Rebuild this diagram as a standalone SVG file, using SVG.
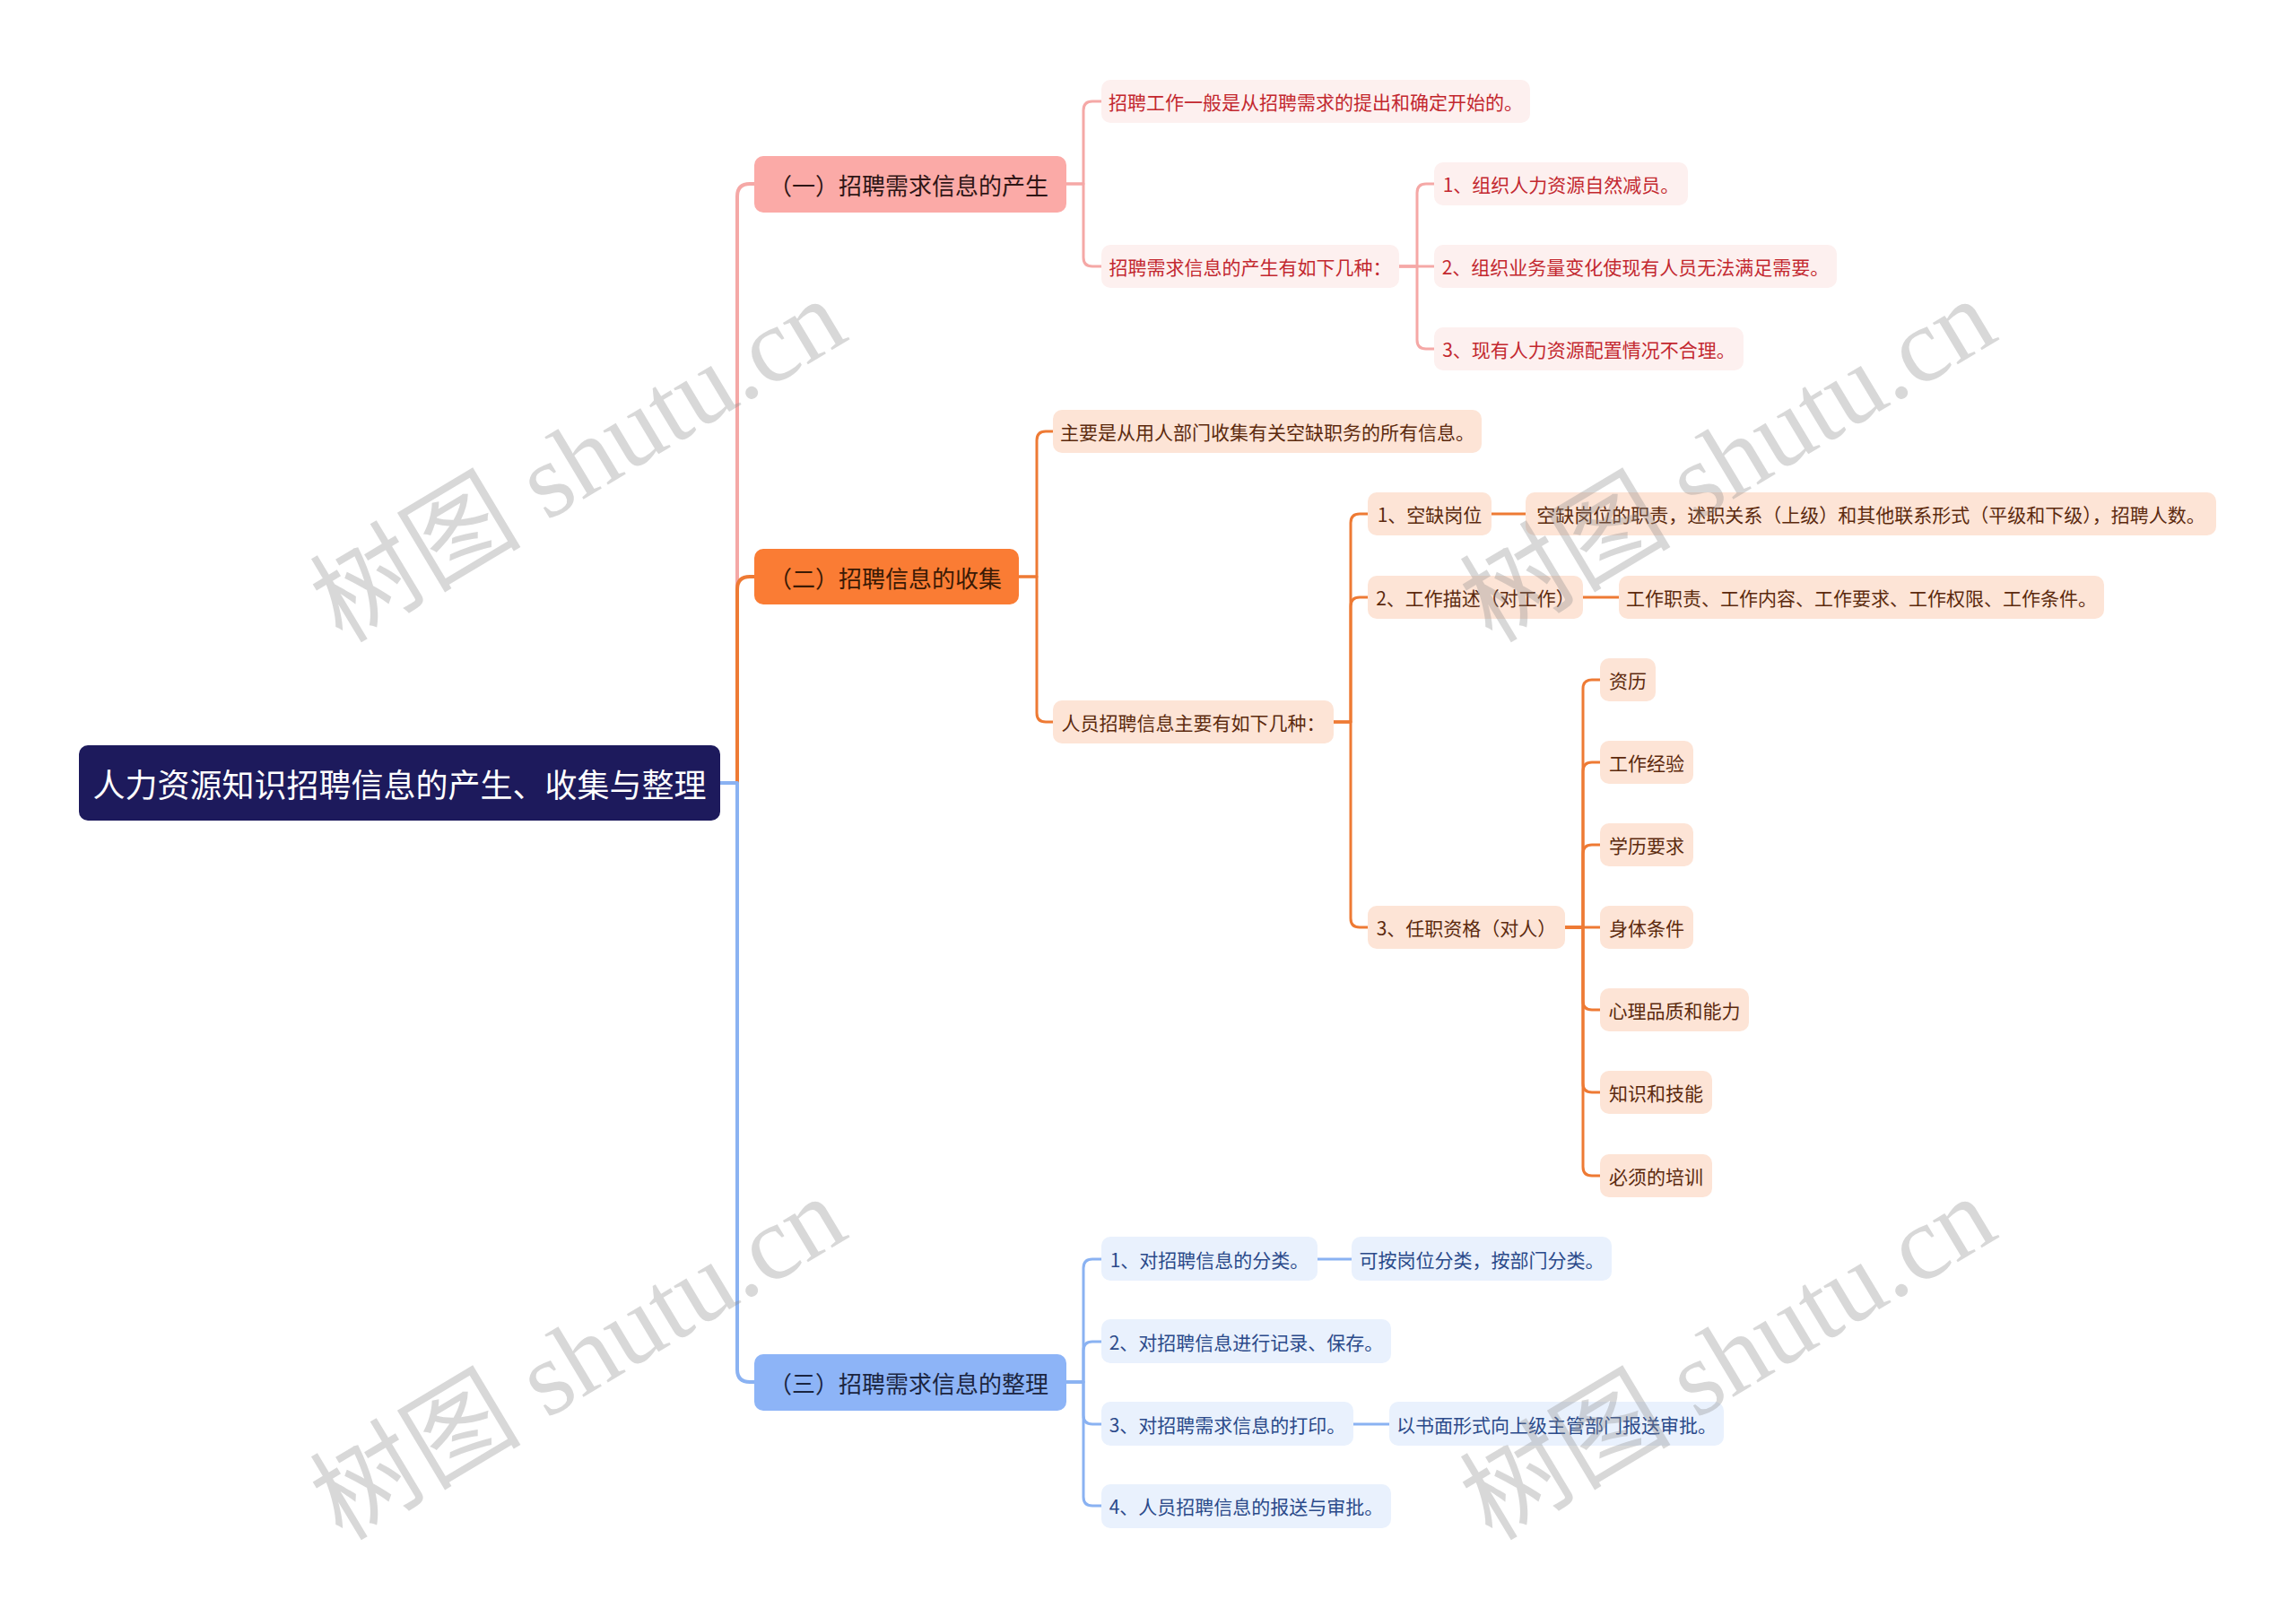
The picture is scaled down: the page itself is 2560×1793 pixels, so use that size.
<svg xmlns="http://www.w3.org/2000/svg" width="2560" height="1793" viewBox="0 0 2560 1793">
<style>
text{font-family:"Noto Sans CJK SC","Noto Sans",sans-serif;text-anchor:middle;dominant-baseline:central}
.root rect{fill:#1d1a5c}
.root text{fill:#ffffff;font-size:36px}
.l1 text{font-size:26px}
.l2 text{font-size:21px}
.pA rect{fill:#fbaaa7}.pA text{fill:#2e1616}
.pB rect{fill:#fa7c34}.pB text{fill:#3a1a05}
.pC rect{fill:#8db4f7}.pC text{fill:#1b2540}
.sA rect{fill:#fdf0ef}.sA text{fill:#c3282f}
.sB rect{fill:#fde4d6}.sB text{fill:#5c2a0e}
.sC rect{fill:#e9f1fd}.sC text{fill:#2b4a8a}
.c{fill:none;stroke-linecap:round;stroke-linejoin:round}
.cA{stroke:#f5a8a6}.cB{stroke:#ee7a34}.cC{stroke:#8ab2f2}
.w4{stroke-width:4}.w3{stroke-width:3}
.wm{font-family:"Liberation Serif","Noto Sans CJK SC",serif;font-size:118px;fill:#8c8c8c;opacity:0.33}
</style>
<rect width="2560" height="1793" fill="#ffffff"/>
<g id="connectors">
<path class="c cA w4" d="M803,873 H822 V219 Q822,205 836,205 H841"/>
<path class="c cB w4" d="M803,873 H822 V657 Q822,643 836,643 H841"/>
<path class="c cC w4" d="M803,873 H822 V1527 Q822,1541 836,1541 H841"/>
<path class="c cA w3" d="M1189,205 H1208 V123 Q1208,113 1218,113 H1228"/>
<path class="c cA w3" d="M1189,205 H1208 V287 Q1208,297 1218,297 H1228"/>
<path class="c cA w3" d="M1560,297 H1580 V215 Q1580,205 1590,205 H1599"/>
<path class="c cA w3" d="M1560,297 H1599"/>
<path class="c cA w3" d="M1560,297 H1580 V379 Q1580,389 1590,389 H1599"/>
<path class="c cB w3" d="M1136,643 H1156 V491 Q1156,481 1166,481 H1174"/>
<path class="c cB w3" d="M1136,643 H1156 V795 Q1156,805 1166,805 H1174"/>
<path class="c cB w3" d="M1487,805 H1506 V583 Q1506,573 1516,573 H1525"/>
<path class="c cB w3" d="M1487,805 H1506 V676 Q1506,666 1516,666 H1525"/>
<path class="c cB w3" d="M1487,805 H1506 V1024 Q1506,1034 1516,1034 H1525"/>
<path class="c cB w3" d="M1663,573 H1701"/>
<path class="c cB w3" d="M1765,666 H1805"/>
<path class="c cB w3" d="M1745,1034 H1765 V768 Q1765,758 1775,758 H1784"/>
<path class="c cB w3" d="M1745,1034 H1765 V860 Q1765,850 1775,850 H1784"/>
<path class="c cB w3" d="M1745,1034 H1765 V952 Q1765,942 1775,942 H1784"/>
<path class="c cB w3" d="M1745,1034 H1784"/>
<path class="c cB w3" d="M1745,1034 H1765 V1116 Q1765,1126 1775,1126 H1784"/>
<path class="c cB w3" d="M1745,1034 H1765 V1208 Q1765,1218 1775,1218 H1784"/>
<path class="c cB w3" d="M1745,1034 H1765 V1301 Q1765,1311 1775,1311 H1784"/>
<path class="c cC w3" d="M1189,1541 H1208 V1414 Q1208,1404 1218,1404 H1228"/>
<path class="c cC w3" d="M1189,1541 H1208 V1506 Q1208,1496 1218,1496 H1228"/>
<path class="c cC w3" d="M1189,1541 H1208 V1578 Q1208,1588 1218,1588 H1228"/>
<path class="c cC w3" d="M1189,1541 H1208 V1669 Q1208,1679 1218,1679 H1228"/>
<path class="c cC w3" d="M1469,1404 H1507"/>
<path class="c cC w3" d="M1509,1588 H1549"/>
</g>
<g id="n-root" class="root"><rect x="88" y="831" width="715" height="84" rx="10"/><text x="445.5" y="873">人力资源知识招聘信息的产生、收集与整理</text></g>
<g id="n-a" class="l1 pA"><rect x="841" y="174" width="348" height="63" rx="10"/><text x="1013" y="205.5">（一）招聘需求信息的产生</text></g>
<g id="n-b" class="l1 pB"><rect x="841" y="612" width="295" height="62" rx="10"/><text x="987" y="643">（二）招聘信息的收集</text></g>
<g id="n-c" class="l1 pC"><rect x="841" y="1510" width="348" height="63" rx="10"/><text x="1013" y="1541.5">（三）招聘需求信息的整理</text></g>
<g id="n-a1" class="l2 sA"><rect x="1228" y="89" width="478" height="48" rx="10"/><text x="1467" y="113">招聘工作一般是从招聘需求的提出和确定开始的。</text></g>
<g id="n-a2" class="l2 sA"><rect x="1228" y="273" width="332" height="48" rx="10"/><text x="1394" y="297">招聘需求信息的产生有如下几种：</text></g>
<g id="n-a2a" class="l2 sA"><rect x="1599" y="181" width="283" height="48" rx="10"/><text x="1740.5" y="205">1、组织人力资源自然减员。</text></g>
<g id="n-a2b" class="l2 sA"><rect x="1599" y="273" width="449" height="48" rx="10"/><text x="1823.5" y="297">2、组织业务量变化使现有人员无法满足需要。</text></g>
<g id="n-a2c" class="l2 sA"><rect x="1599" y="365" width="345" height="48" rx="10"/><text x="1771.5" y="389">3、现有人力资源配置情况不合理。</text></g>
<g id="n-b1" class="l2 sB"><rect x="1174" y="457" width="478" height="48" rx="10"/><text x="1413" y="481">主要是从用人部门收集有关空缺职务的所有信息。</text></g>
<g id="n-b2" class="l2 sB"><rect x="1174" y="781" width="313" height="48" rx="10"/><text x="1330.5" y="805">人员招聘信息主要有如下几种：</text></g>
<g id="n-b2a" class="l2 sB"><rect x="1525" y="549" width="138" height="48" rx="10"/><text x="1594" y="573">1、空缺岗位</text></g>
<g id="n-b2a1" class="l2 sB"><rect x="1701" y="549" width="770" height="48" rx="10"/><text x="2086" y="573">空缺岗位的职责，述职关系（上级）和其他联系形式（平级和下级），招聘人数。</text></g>
<g id="n-b2b" class="l2 sB"><rect x="1525" y="642" width="240" height="48" rx="10"/><text x="1645" y="666">2、工作描述（对工作）</text></g>
<g id="n-b2b1" class="l2 sB"><rect x="1805" y="642" width="541" height="48" rx="10"/><text x="2075.5" y="666">工作职责、工作内容、工作要求、工作权限、工作条件。</text></g>
<g id="n-b2c" class="l2 sB"><rect x="1525" y="1010" width="220" height="48" rx="10"/><text x="1635" y="1034">3、任职资格（对人）</text></g>
<g id="n-b2c1" class="l2 sB"><rect x="1784" y="734" width="62" height="48" rx="10"/><text x="1815" y="758">资历</text></g>
<g id="n-b2c2" class="l2 sB"><rect x="1784" y="826" width="104" height="48" rx="10"/><text x="1836" y="850">工作经验</text></g>
<g id="n-b2c3" class="l2 sB"><rect x="1784" y="918" width="104" height="48" rx="10"/><text x="1836" y="942">学历要求</text></g>
<g id="n-b2c4" class="l2 sB"><rect x="1784" y="1010" width="104" height="48" rx="10"/><text x="1836" y="1034">身体条件</text></g>
<g id="n-b2c5" class="l2 sB"><rect x="1784" y="1102" width="166" height="48" rx="10"/><text x="1867" y="1126">心理品质和能力</text></g>
<g id="n-b2c6" class="l2 sB"><rect x="1784" y="1194" width="125" height="48" rx="10"/><text x="1846.5" y="1218">知识和技能</text></g>
<g id="n-b2c7" class="l2 sB"><rect x="1784" y="1287" width="125" height="48" rx="10"/><text x="1846.5" y="1311">必须的培训</text></g>
<g id="n-c1" class="l2 sC"><rect x="1228" y="1379" width="241" height="49" rx="10"/><text x="1348.5" y="1404">1、对招聘信息的分类。</text></g>
<g id="n-c1a" class="l2 sC"><rect x="1507" y="1379" width="290" height="49" rx="10"/><text x="1652" y="1404">可按岗位分类，按部门分类。</text></g>
<g id="n-c2" class="l2 sC"><rect x="1228" y="1471" width="323" height="49" rx="10"/><text x="1389.5" y="1496">2、对招聘信息进行记录、保存。</text></g>
<g id="n-c3" class="l2 sC"><rect x="1228" y="1563" width="281" height="49" rx="10"/><text x="1368.5" y="1588">3、对招聘需求信息的打印。</text></g>
<g id="n-c3a" class="l2 sC"><rect x="1549" y="1563" width="373" height="49" rx="10"/><text x="1735.5" y="1588">以书面形式向上级主管部门报送审批。</text></g>
<g id="n-c4" class="l2 sC"><rect x="1228" y="1655" width="323" height="49" rx="10"/><text x="1389.5" y="1679">4、人员招聘信息的报送与审批。</text></g>
<g id="watermark">
<text class="wm" transform="translate(645,514) rotate(-31)">树图 shutu.cn</text>
<text class="wm" transform="translate(1927,514) rotate(-31)">树图 shutu.cn</text>
<text class="wm" transform="translate(645,1515) rotate(-31)">树图 shutu.cn</text>
<text class="wm" transform="translate(1927,1515) rotate(-31)">树图 shutu.cn</text>
</g>
</svg>
